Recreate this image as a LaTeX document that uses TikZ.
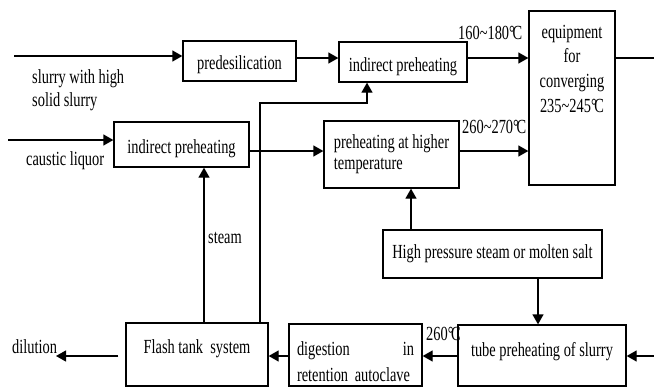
\documentclass[tikz,border=0pt]{standalone}
\usepackage{fontspec}
\setmainfont{Liberation Serif}[FakeStretch=0.72]
\usetikzlibrary{arrows.meta}
\newcommand{\degC}{°\kern-.12em C}

\begin{document}
\begin{tikzpicture}[x=1pt, y=-1pt, every node/.style={font=\fontsize{20}{24}\selectfont, inner sep=0pt}, box/.style={draw, line width=1.3pt, anchor=base, align=center}, lbl/.style={anchor=base west, align=left}, arrow/.style={-{Triangle[length=10pt, width=11pt]}, line width=1.3pt}, line/.style={line width=1.3pt}]
\useasboundingbox (0,0) rectangle (654,388);
\node[box, minimum width=113pt, text height=28pt, text depth=12pt] (pre) at (239.5,69) {predesilication};
\node[box, minimum width=128pt, text height=29pt, text depth=11pt] (ihtop) at (403,71) {indirect preheating};
\node[box, text width=86pt, text height=27pt, text depth=147pt, font=\fontsize{20}{24.7}\selectfont] (equip) at (572,38) {equipment\\for\\converging\\235\textasciitilde245\degC};
\node[box, minimum width=135pt, text height=31pt, text depth=14pt] (ihleft) at (181.5,153) {indirect preheating};
\node[box, minimum width=135pt, align=left, text height=48pt, text depth=19pt, font=\fontsize{20}{21}\selectfont] (phigh) at (391.5,169) {preheating at higher\\temperature};
\node[box, minimum width=219pt, text height=28pt, text depth=20pt] (hp) at (492.5,258) {High pressure steam or molten salt};
\node[box, minimum width=168pt, text height=31pt, text depth=30pt] (tube) at (542,356) {tube preheating of slurry};
\node[box, text width=117pt, inner xsep=8pt, align=left, text height=31pt, text depth=31pt, font=\fontsize{20}{26}\selectfont] (dig) at (355.5,355) {digestion\hfill in\\retention autoclave};
\node[box, minimum width=142pt, text height=30pt, text depth=33pt] (flash) at (197,353) {Flash tank\ \ system};
\node[lbl, font=\fontsize{20}{23}\selectfont] (slurry) at (32,106) {slurry with high\\solid slurry};
\node[lbl] (caustic) at (26,165) {caustic liquor};
\node[lbl] (steam) at (208,243) {steam};
\node[lbl] (dilution) at (12,353) {dilution};
\node[lbl] (t1) at (458,39) {160\textasciitilde180\degC};
\node[lbl] (t2) at (462,133) {260\textasciitilde270\degC};
\node[lbl] (t3) at (426,340) {260\degC};
\coordinate (sin) at (14,56); \coordinate (cin) at (8,140); \coordinate (eout) at (654,58); \coordinate (tin) at (654,356); \coordinate (dil) at (56,356);
\coordinate (r2) at (0,151); \coordinate (k1) at (260,103); \coordinate (k2) at (367,103); \coordinate (st) at (204,0); \coordinate (hpl) at (411,0); \coordinate (hpr) at (538,0);
\coordinate[xshift=-7pt] (fout) at (tin -| flash.west);
\draw[arrow] (sin) -- (sin -| pre.west); \draw[arrow] (eout -| pre.east) -- (eout -| ihtop.west); \draw[arrow] (eout -| ihtop.east) -- (eout -| equip.west); \draw[line] (eout -| equip.east) -- (eout);
\draw[arrow] (cin) -- (cin -| ihleft.west); \draw[arrow] (r2 -| ihleft.east) -- (r2 -| phigh.west); \draw[arrow] (r2 -| phigh.east) -- (r2 -| equip.west);
\draw[arrow] (k1 |- flash.north) -- (k1) -- (k2) -- (k2 |- ihtop.south); \draw[arrow] (st |- flash.north) -- (st |- ihleft.south);
\draw[arrow] (hpl |- hp.north) -- (hpl |- phigh.south); \draw[arrow] (hpr |- hp.south) -- (hpr |- tube.north);
\draw[arrow] (tin) -- (tin -| tube.east); \draw[arrow] (tin -| tube.west) -- (tin -| dig.east); \draw[arrow] (tin -| dig.west) -- (tin -| flash.east); \draw[arrow] (fout) -- (dil);
\end{tikzpicture}
\end{document}
